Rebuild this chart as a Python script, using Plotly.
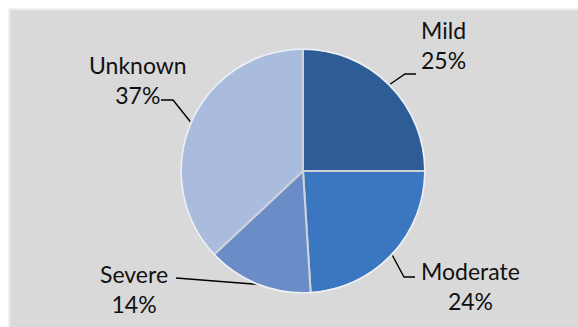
import math
import plotly.graph_objects as go

# ---- data -------------------------------------------------------------
categories = ["Mild", "Moderate", "Severe", "Unknown"]
shares = [25, 24, 14, 37]          # percent of cases
slice_colors = ["#2e5c96", "#3a77c0", "#6b8dc7", "#aabcdd"]

# ---- layout constants (pixels, y measured from the top) ---------------
W, H = 578, 327
CX, CY, R = 303, 171, 122          # pie centre and radius
FONT = "Lato, 'Open Sans', sans-serif"
FONT_SIZE = 23

# label text centre (first line) and leader-line elbow / tail end per category
label_center = {"Mild": (443, 28), "Moderate": (470, 269),
                "Severe": (134, 272), "Unknown": (138, 63)}
leader_elbow = {"Mild": (405, 74), "Moderate": (404, 277),
                "Severe": (176, 278), "Unknown": (173, 100)}
leader_end = {"Mild": (416, 74), "Moderate": (415, 277),
              "Severe": (176, 278), "Unknown": (161, 100)}

fig = go.Figure()

# pie placed through its domain so the slices sit at CX, CY with radius R
fig.add_trace(go.Pie(
    labels=categories,
    values=shares,
    sort=False,
    direction="clockwise",
    rotation=0,
    textinfo="none",
    hoverinfo="label+percent",
    marker=dict(colors=slice_colors, line=dict(color="#cfd3d8", width=2)),
    domain=dict(x=[(CX - R) / W, (CX + R) / W],
                y=[1 - (CY + R) / H, 1 - (CY - R) / H]),
    showlegend=False,
))

# leader lines: from the slice edge at its mid angle to the label
total = sum(shares)
acc = 0.0
for name, v in zip(categories, shares):
    mid = (acc + v / 2) / total * 2 * math.pi
    acc += v
    ex = CX + R * math.sin(mid)
    ey = CY - R * math.cos(mid)
    bx, by = leader_elbow[name]
    tx, ty = leader_end[name]
    fig.add_trace(go.Scatter(
        x=[ex, bx, tx], y=[ey, by, ty], mode="lines",
        line=dict(color="black", width=1.4),
        hoverinfo="skip", showlegend=False,
        xaxis="x", yaxis="y",
    ))
    lx, ly = label_center[name]
    fig.add_annotation(
        x=lx, y=ly, xref="x", yref="y",
        text=f"{name}<br>{v}%",
        showarrow=False, align="center",
        xanchor="center", yanchor="top",
        yshift=FONT_SIZE * 0.6,
        font=dict(family=FONT, size=FONT_SIZE, color="#111111"),
    )

# background panel with a soft edge, and a light rim round the pie
panel = [(8, "#f2f2f2"), (9, "#e9e9e9"), (10, "#e0e0e0"), (11, "#d9d9d9")]
for off, col in panel:
    fig.add_shape(type="rect", xref="x", yref="y", x0=off, y0=off,
                  x1=W + 5, y1=H + 5, fillcolor=col, line_width=0,
                  layer="below")
fig.add_shape(type="circle", xref="x", yref="y",
              x0=CX - R, x1=CX + R, y0=CY - R, y1=CY + R,
              line=dict(color="#eef1f6", width=1.5), layer="above")

fig.update_layout(
    width=W, height=H,
    margin=dict(l=0, r=0, t=0, b=0),
    paper_bgcolor="white",
    plot_bgcolor="rgba(0,0,0,0)",
    xaxis=dict(range=[0, W], visible=False, fixedrange=True, domain=[0, 1]),
    yaxis=dict(range=[H, 0], visible=False, fixedrange=True, domain=[0, 1]),
)

fig.write_html("out.html")
